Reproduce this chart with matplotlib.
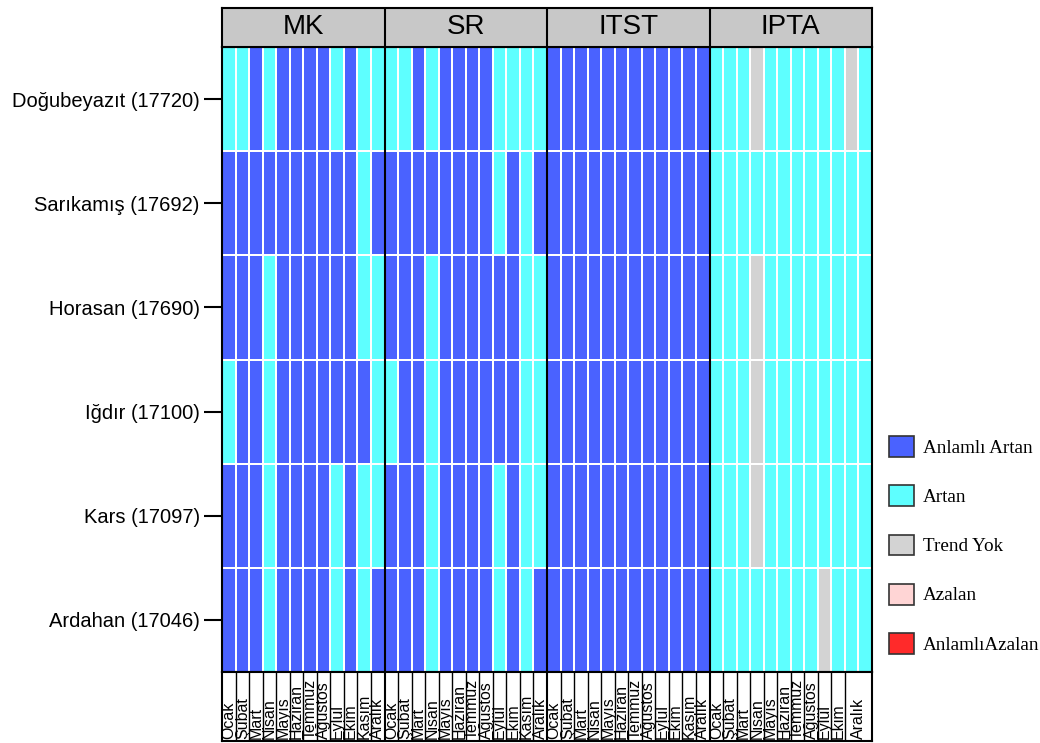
import numpy as np
import matplotlib
matplotlib.use("Agg")
import matplotlib.pyplot as plt
from matplotlib.colors import ListedColormap
from matplotlib.patches import Patch

plt.rcParams['font.family'] = ['Liberation Sans', 'DejaVu Sans']

# 0 = Anlamlı Artan, 1 = Artan, 2 = Trend Yok, 3 = Azalan, 4 = AnlamlıAzalan
categories = ['Anlamlı Artan', 'Artan', 'Trend Yok', 'Azalan', 'AnlamlıAzalan']
cat_colors = ['#4A62FF', '#5EFFFF', '#D3D3D3', '#FFD5D5', '#FF2A2A']

stations = ['Doğubeyazıt (17720)', 'Sarıkamış (17692)', 'Horasan (17690)',
            'Iğdır (17100)', 'Kars (17097)', 'Ardahan (17046)']
methods = ['MK', 'SR', 'ITST', 'IPTA']
months = ['Ocak', 'Şubat', 'Mart', 'Nisan', 'Mayıs', 'Haziran', 'Temmuz',
          'Ağustos', 'Eylül', 'Ekim', 'Kasım', 'Aralık']
ipta_labels = ['Ocak', 'Şubat', 'Mart', 'Nisan', 'Mayıs', 'Haziran', 'Temmuz',
               'Ağustos', 'Eylül', 'Ekim', 'Aralık']
ipta_label_widths = [1, 1, 1, 1, 1, 1, 1, 1, 1, 1, 2]

mk = [
    [1, 1, 0, 1, 0, 0, 0, 0, 1, 0, 1, 1],
    [0, 0, 0, 0, 0, 0, 0, 0, 0, 0, 1, 0],
    [0, 0, 0, 1, 0, 0, 0, 0, 0, 0, 1, 1],
    [1, 0, 0, 1, 0, 0, 0, 0, 0, 0, 0, 1],
    [0, 0, 0, 1, 0, 0, 0, 0, 1, 0, 1, 1],
    [0, 0, 0, 1, 0, 0, 0, 0, 1, 0, 1, 0],
]
sr = [
    [1, 1, 0, 1, 0, 0, 0, 0, 1, 1, 1, 1],
    [0, 0, 0, 0, 0, 0, 0, 0, 1, 0, 1, 0],
    [0, 0, 0, 1, 0, 0, 0, 0, 0, 0, 1, 1],
    [1, 0, 0, 1, 0, 0, 0, 0, 0, 0, 1, 1],
    [0, 0, 0, 1, 0, 0, 0, 0, 1, 0, 1, 1],
    [0, 0, 0, 1, 0, 0, 0, 0, 1, 0, 1, 0],
]
itst = [[0] * 12 for _ in range(6)]
ipta = [
    [1, 1, 1, 2, 1, 1, 1, 1, 1, 1, 2, 1],
    [1, 1, 1, 1, 1, 1, 1, 1, 1, 1, 1, 1],
    [1, 1, 1, 2, 1, 1, 1, 1, 1, 1, 1, 1],
    [1, 1, 1, 2, 1, 1, 1, 1, 1, 1, 1, 1],
    [1, 1, 1, 2, 1, 1, 1, 1, 1, 1, 1, 1],
    [1, 1, 1, 1, 1, 1, 1, 1, 2, 1, 1, 1],
]

grid = np.hstack([np.array(mk), np.array(sr), np.array(itst), np.array(ipta)])
ncol = grid.shape[1]
nrow = grid.shape[0]

W, H = 1040, 743
fig = plt.figure(figsize=(W / 100, H / 100), dpi=100)
L, R = 222 / W, 872 / W
fy = lambda p: 1 - p / H

ax = fig.add_axes([L, fy(672), R - L, fy(47) - fy(672)])
strip = fig.add_axes([L, fy(47), R - L, fy(8) - fy(47)])
lab = fig.add_axes([L, fy(741), R - L, fy(672) - fy(741)])

cmap = ListedColormap(cat_colors)
ax.pcolormesh(np.arange(ncol + 1), np.arange(nrow + 1), grid, cmap=cmap,
              vmin=-0.5, vmax=len(categories) - 0.5,
              edgecolors='white', linewidth=1.1)
ax.set_xlim(0, ncol)
ax.set_ylim(nrow, 0)
ax.set_xticks([])
ax.set_yticks(np.arange(nrow) + 0.5, stations, fontsize=14.5)
ax.tick_params(axis='y', length=13, width=1.5, pad=3)
for i in range(1, len(methods)):
    ax.axvline(12 * i, color='black', lw=1.5)
for s in ax.spines.values():
    s.set_linewidth(1.5)

# facet strips
strip.set_facecolor('#C8C8C8')
strip.set_xlim(0, ncol)
strip.set_ylim(0, 1)
strip.set_xticks([])
strip.set_yticks([])
for i, m in enumerate(methods):
    strip.text(12 * i + 6, 0.5, m, ha='center', va='center', fontsize=20)
    if i:
        strip.axvline(12 * i, color='black', lw=1.5)
for s in strip.spines.values():
    s.set_linewidth(1.5)

# month label boxes
lab.set_xlim(0, ncol)
lab.set_ylim(0, 1)
lab.set_xticks([])
lab.set_yticks([])
for s in lab.spines.values():
    s.set_linewidth(1.5)
for i, m in enumerate(methods):
    if m == 'IPTA':
        labels, widths = ipta_labels, ipta_label_widths
    else:
        labels, widths = months, [1] * 12
    x0 = 12 * i
    for t, w in zip(labels, widths):
        lab.text(x0 + w / 2, 0.03, t, rotation=90, ha='center', va='bottom',
                 fontsize=11.5)
        x0 += w
        if x0 < ncol:
            lab.axvline(x0, color='black', lw=1.5 if x0 % 12 == 0 else 1.0)

handles = [Patch(facecolor=c, edgecolor='#333333', linewidth=1.2) for c in cat_colors]
fig.legend(handles, categories, loc='center left',
           bbox_to_anchor=(872 / W, fy(545)), frameon=False,
           prop={'family': 'Liberation Serif', 'size': 13.8},
           handlelength=1.3, handleheight=1.3, labelspacing=1.47,
           handletextpad=0.45)

fig.savefig('out.png', dpi=100)
